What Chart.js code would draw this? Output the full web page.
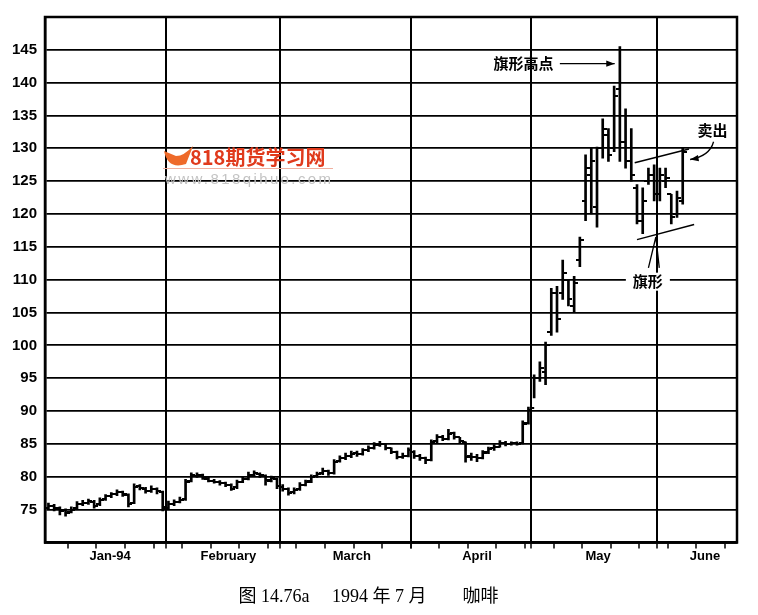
<!DOCTYPE html>
<html lang="zh">
<head>
<meta charset="UTF-8">
<title>1994 年 7 月 咖啡</title>
<script src="https://cdn.jsdelivr.net/npm/chart.js"></script>
<style>
  body { margin: 0; background: #fff; }
  #wrap { width: 758px; height: 615px; }
</style>
</head>
<body>
<div id="wrap"><canvas id="coffeeChart" width="758" height="615"></canvas></div>
<script>
// one bar per weekday, index 0 = 3 Jan 1994 (July coffee futures)
const opens = [
  75.2, 75.6, 75.2, 74.9, 74.6, 75.2, 75.9, 76.0, 76.2, 75.8, 76.6, 77.0, 77.3, 77.6, 77.2, 76.0, 78.6, 78.2, 77.9, 78.1, 77.6,
  75.3, 75.9, 76.2, 76.6, 79.4, 80.1, 80.2, 79.7, 79.4, 79.2, 79.0, 78.7, 78.4, 79.2, 79.7, 80.2, 80.4, 80.1, 79.4, 79.6,
  78.5, 78.1, 77.6, 78.1, 78.8, 79.3, 80.1, 80.5, 80.9, 80.6, 82.4, 82.8, 83.1, 83.6, 83.5, 84.0, 84.4, 84.8, 85.0, 84.3, 83.7, 83.0, 83.2,
  83.8, 83.1, 82.8, 82.6, 85.4, 86.1, 85.8, 86.6, 86.0, 85.3, 83.2, 83.0, 82.9, 83.7, 84.3, 84.6, 85.2, 85.0, 85.1, 85.1, 88.2,
  90.5, 95.0, 96.0, 102.0, 108.0, 108.0, 110.0, 106.0, 113.0, 122.0, 126.0, 121.0, 130.0, 132.0, 130.0, 139.0, 131.0, 128.0, 124.0, 119.0, 125.0, 126.0,
  123.0, 125.0, 123.0, 120.0, 122.0
];
const highs = [
  76.0, 75.8, 75.4, 75.1, 75.4, 76.2, 76.4, 76.6, 76.4, 76.8, 77.3, 77.6, 78.0, 77.8, 77.4, 78.9, 78.8, 78.4, 78.6, 78.3, 77.8,
  76.3, 76.5, 76.9, 79.6, 80.6, 80.6, 80.4, 79.9, 79.6, 79.4, 79.2, 78.9, 79.5, 80.0, 80.7, 80.9, 80.6, 80.3, 80.1, 79.8,
  78.8, 78.3, 78.3, 79.1, 79.5, 80.3, 80.7, 81.3, 81.0, 82.6, 83.2, 83.6, 83.9, 83.9, 84.3, 84.7, 85.2, 85.4, 85.1, 84.4, 83.9, 83.6, 84.4,
  84.0, 83.4, 83.0, 85.6, 86.4, 86.3, 87.2, 86.8, 86.0, 85.3, 83.6, 83.4, 84.0, 84.5, 84.9, 85.5, 85.4, 85.3, 85.3, 88.5, 90.6,
  95.5, 97.5, 100.5, 108.7, 109.0, 113.0, 110.0, 110.5, 116.5, 129.0, 130.0, 130.2, 134.5, 133.0, 139.5, 145.5, 136.0, 133.0, 124.5, 124.0, 127.0, 127.5,
  127.0, 127.0, 123.0, 123.5, 130.0
];
const lows = [
  75.0, 74.8, 74.2, 74.0, 74.5, 75.0, 75.6, 75.8, 75.2, 75.6, 76.4, 76.8, 77.1, 77.0, 75.4, 75.9, 78.0, 77.5, 77.6, 77.4, 74.8,
  75.1, 75.6, 76.0, 76.4, 79.2, 79.9, 79.6, 79.2, 79.0, 78.7, 78.5, 77.9, 78.2, 79.1, 79.5, 80.0, 79.9, 78.7, 79.2, 78.2,
  77.8, 77.2, 77.4, 77.9, 78.6, 79.1, 79.9, 80.3, 80.2, 80.4, 82.2, 82.6, 82.9, 83.1, 83.3, 83.8, 84.2, 84.6, 84.1, 83.5, 82.7, 82.8, 83.0,
  82.8, 82.5, 82.0, 82.4, 85.2, 85.5, 85.6, 85.7, 85.1, 82.2, 82.5, 82.3, 82.7, 83.5, 84.0, 84.5, 84.7, 84.8, 84.8, 85.0, 88.0,
  92.0, 94.5, 94.0, 101.5, 102.0, 107.0, 106.0, 105.0, 112.0, 119.0, 120.0, 118.0, 128.5, 128.0, 129.5, 128.0, 127.0, 125.0, 118.5, 117.0, 124.5, 122.0,
  122.0, 124.0, 118.5, 119.5, 121.5
];
const closes = [
  75.5, 75.3, 74.8, 74.5, 75.0, 75.8, 76.0, 76.3, 75.6, 76.5, 77.0, 77.3, 77.6, 77.3, 75.8, 78.5, 78.3, 77.8, 78.2, 77.8, 75.4,
  75.8, 76.2, 76.5, 79.2, 80.2, 80.3, 79.8, 79.4, 79.2, 79.0, 78.8, 78.2, 79.2, 79.6, 80.3, 80.5, 80.2, 79.5, 79.8, 78.6,
  78.2, 77.5, 78.0, 78.8, 79.2, 80.0, 80.4, 80.9, 80.5, 82.3, 82.8, 83.2, 83.5, 83.4, 84.0, 84.4, 84.8, 85.0, 84.4, 83.8, 83.0, 83.2, 84.0,
  83.2, 82.8, 82.5, 85.3, 86.0, 85.8, 86.5, 86.0, 85.5, 83.0, 83.0, 82.8, 83.6, 84.2, 84.6, 85.2, 85.0, 85.1, 85.0, 88.0, 90.2,
  95.0, 96.5, 100.0, 108.0, 104.0, 111.0, 107.0, 109.5, 116.0, 127.0, 128.0, 130.0, 133.0, 129.0, 138.0, 131.0, 128.0, 126.0, 119.0, 122.0, 126.0, 123.0,
  126.0, 125.5, 119.5, 122.5, 129.5
];

const monthNames = ['Jan-94', 'February', 'March', 'April', 'May', 'June'];
const monthLabelAt = [10.8, 31.5, 53.1, 75.0, 96.2, 114.9];
const monthLines = [20.5, 40.5, 63.5, 84.5, 106.5];
const weekTicks = [3.4, 8.4, 13.4, 18.4, 23.4, 28.4, 33.4, 38.4, 43.4, 48.4, 53.4, 58.4,
                   63.4, 68.4, 73.4, 78.4, 83.4, 88.4, 93.4, 98.4, 103.4, 108.4, 113.4, 118.4];

// flag trend lines, [day, price]
const flagUpper = [[102.6, 127.8], [112.1, 129.9]];
const flagLower = [[103.0, 116.1], [113.0, 118.4]];

const bars = highs.map((h, i) => ({ x: i, y: [lows[i], h] }));
const openPts = opens.map((v, i) => ({ x: i, y: v }));
const closePts = closes.map((v, i) => ({ x: i, y: v }));

function tickMark(side) {
  const c = document.createElement('canvas');
  c.width = 8; c.height = 2;
  const g = c.getContext('2d');
  g.fillStyle = '#000';
  g.fillRect(side === 'left' ? 0 : 4, 0, 4, 2);
  return c;
}

function arrowHead(ctx, x1, y1, x2, y2, size) {
  const a = Math.atan2(y2 - y1, x2 - x1);
  ctx.beginPath();
  ctx.moveTo(x2, y2);
  ctx.lineTo(x2 - size * Math.cos(a - 0.35), y2 - size * Math.sin(a - 0.35));
  ctx.lineTo(x2 - size * Math.cos(a + 0.35), y2 - size * Math.sin(a + 0.35));
  ctx.closePath();
  ctx.fill();
}

const extras = {
  id: 'extras',
  beforeDatasetsDraw(chart) {
    // site watermark
    const ctx = chart.ctx;
    ctx.save();
    ctx.fillStyle = '#ee6a2a';
    ctx.beginPath();
    ctx.moveTo(164, 151);
    ctx.quadraticCurveTo(168, 170, 186, 164);
    ctx.lineTo(193, 146);
    ctx.quadraticCurveTo(184, 156, 176, 156);
    ctx.closePath();
    ctx.fill();
    ctx.fillStyle = '#e03a1c';
    ctx.font = 'bold 20px "Noto Sans CJK SC"';
    ctx.textBaseline = 'middle';
    ctx.fillText('818期货学习网', 190, 157);
    ctx.strokeStyle = '#f0b0a0';
    ctx.lineWidth = 1;
    ctx.beginPath(); ctx.moveTo(163, 168.5); ctx.lineTo(333, 168.5); ctx.stroke();
    ctx.fillStyle = '#c4c4c4';
    ctx.font = '15px "Liberation Sans"';
    ctx.letterSpacing = '2.4px';
    ctx.fillText('www.818qihuo.com', 165, 180);
    ctx.restore();
  },
  afterDatasetsDraw(chart) {
    const { ctx, chartArea: a, scales: { x, y } } = chart;
    ctx.save();
    ctx.strokeStyle = '#000';
    ctx.lineWidth = 2.5;
    ctx.strokeRect(a.left, a.top, a.right - a.left, a.bottom - a.top);

    ctx.fillStyle = '#000';
    ctx.lineWidth = 1.3;
    ctx.font = 'bold 15px "Noto Sans CJK SC"';
    ctx.textBaseline = 'middle';

    // flag high
    const hy = y.getPixelForValue(142.9);
    ctx.textAlign = 'right';
    ctx.fillText('旗形高点', x.getPixelForValue(88.4), hy);
    const ax1 = x.getPixelForValue(89.5), ax2 = x.getPixelForValue(99.1);
    ctx.beginPath(); ctx.moveTo(ax1, hy); ctx.lineTo(ax2, hy); ctx.stroke();
    arrowHead(ctx, ax1, hy, ax2, hy, 9);

    // sell
    ctx.textAlign = 'center';
    ctx.fillText('卖出', x.getPixelForValue(116.2), y.getPixelForValue(132.8));
    const sx = x.getPixelForValue(116.4), sy = y.getPixelForValue(131.0);
    const cx = x.getPixelForValue(115.7), cy = y.getPixelForValue(128.8);
    const ex = x.getPixelForValue(112.3), ey = y.getPixelForValue(128.3);
    ctx.beginPath(); ctx.moveTo(sx, sy); ctx.quadraticCurveTo(cx, cy, ex, ey); ctx.stroke();
    arrowHead(ctx, cx, cy, ex, ey, 9);

    // flag
    const fx = x.getPixelForValue(104.9), fy = y.getPixelForValue(109.7);
    ctx.fillStyle = '#fff';
    ctx.fillRect(fx - 22, fy - 9, 44, 18);
    ctx.fillStyle = '#000';
    ctx.fillText('旗形', fx, fy);
    const tipX = x.getPixelForValue(106.3), tipY = y.getPixelForValue(116.5);
    ctx.beginPath();
    ctx.moveTo(x.getPixelForValue(105.0), y.getPixelForValue(111.8)); ctx.lineTo(tipX, tipY);
    ctx.moveTo(x.getPixelForValue(106.9), y.getPixelForValue(111.8)); ctx.lineTo(tipX, tipY);
    ctx.stroke();
    ctx.restore();
  }
};

new Chart(document.getElementById('coffeeChart'), {
  type: 'bar',
  data: {
    datasets: [
      {
        type: 'bar',
        data: bars,
        backgroundColor: '#000',
        borderWidth: 0,
        barThickness: 2,
        grouped: false
      },
      {
        type: 'scatter',
        data: openPts,
        pointStyle: tickMark('left'),
        pointRadius: 4
      },
      {
        type: 'scatter',
        data: closePts,
        pointStyle: tickMark('right'),
        pointRadius: 4
      },
      {
        type: 'line',
        data: flagUpper.map(p => ({ x: p[0], y: p[1] })),
        borderColor: '#000',
        borderWidth: 1.5,
        pointRadius: 0
      },
      {
        type: 'line',
        data: flagLower.map(p => ({ x: p[0], y: p[1] })),
        borderColor: '#000',
        borderWidth: 1.5,
        pointRadius: 0
      }
    ]
  },
  options: {
    responsive: false,
    animation: false,
    layout: { padding: { left: 0, right: 21, top: 15, bottom: 0 } },
    plugins: {
      legend: { display: false },
      tooltip: { enabled: false },
      title: {
        display: true,
        position: 'bottom',
        text: '图 14.76a　 1994 年 7 月　　咖啡',
        color: '#000',
        font: { family: '"Liberation Serif", "Noto Sans CJK SC"', size: 18, weight: 'normal' },
        padding: { top: 5, bottom: 7 }
      }
    },
    scales: {
      x: {
        type: 'linear',
        min: -0.6,
        max: 120.5,
        offset: false,
        afterBuildTicks(scale) {
          const vals = [...monthLines, ...weekTicks, ...monthLabelAt].sort((p, q) => p - q);
          scale.ticks = vals.map(v => ({ value: v }));
        },
        afterFit(scale) { scale.height = 39; },
        ticks: {
          autoSkip: false,
          maxRotation: 0,
          padding: 0,
          color: '#000',
          font: { family: 'Arial, "Liberation Sans"', size: 13, weight: 'bold' },
          callback(v) {
            const k = monthLabelAt.indexOf(v);
            return k >= 0 ? monthNames[k] : '';
          }
        },
        grid: {
          offset: false,
          lineWidth: 2,
          tickLength: 6,
          tickWidth: 1.5,
          color(c) { return monthLines.includes(c.tick.value) ? '#000' : 'rgba(0,0,0,0)'; },
          tickColor(c) { return monthLabelAt.includes(c.tick.value) ? 'rgba(0,0,0,0)' : '#000'; }
        },
        border: { color: '#000', width: 2.5 }
      },
      y: {
        min: 70,
        max: 150,
        afterFit(scale) { scale.width = 45; },
        ticks: {
          stepSize: 5,
          padding: 8,
          color: '#000',
          font: { family: 'Arial, "Liberation Sans"', size: 15, weight: 'bold' },
          callback(v) { return (v === 70 || v === 150) ? '' : v; }
        },
        grid: { color: '#000', lineWidth: 1.8, drawTicks: false },
        border: { color: '#000', width: 2.5 }
      }
    }
  },
  plugins: [extras]
});
</script>
</body>
</html>
